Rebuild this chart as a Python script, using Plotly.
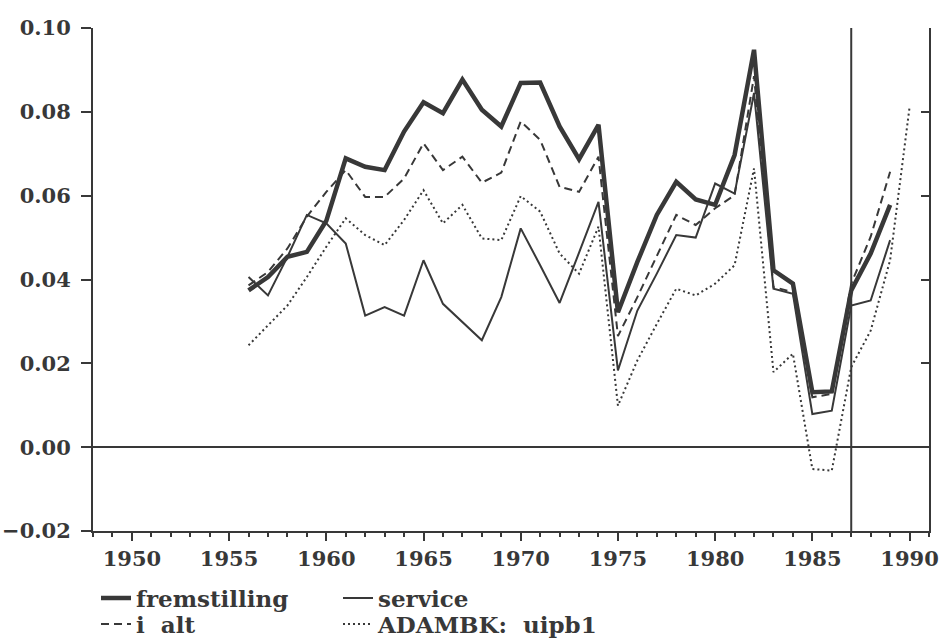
import plotly.graph_objects as go

years = list(range(1956, 1990))
years_adam = list(range(1956, 1991))

fremstilling = [0.0374, 0.0406, 0.0454, 0.0466, 0.0540, 0.0689, 0.0669, 0.0661, 0.0753, 0.0823,
                0.0797, 0.0877, 0.0805, 0.0765, 0.0869, 0.0870, 0.0765, 0.0687, 0.0769, 0.0322,
                0.0442, 0.0554, 0.0633, 0.0591, 0.0578, 0.0697, 0.0948, 0.0422, 0.0390, 0.0131,
                0.0133, 0.0374, 0.0462, 0.0578]
service = [0.0406, 0.0362, 0.0454, 0.0554, 0.0534, 0.0486, 0.0314, 0.0334, 0.0314, 0.0446,
           0.0342, 0.0298, 0.0255, 0.0358, 0.0522, 0.0434, 0.0344, 0.0464, 0.0585, 0.0183,
           0.0326, 0.0414, 0.0506, 0.0500, 0.0629, 0.0605, 0.0845, 0.0378, 0.0366, 0.0079,
           0.0087, 0.0338, 0.0350, 0.0494]
i_alt = [0.0386, 0.0418, 0.0474, 0.0550, 0.0609, 0.0661, 0.0597, 0.0597, 0.0641, 0.0725,
         0.0661, 0.0693, 0.0631, 0.0655, 0.0777, 0.0733, 0.0621, 0.0609, 0.0693, 0.0265,
         0.0358, 0.0454, 0.0554, 0.0530, 0.0570, 0.0601, 0.0885, 0.0382, 0.0370, 0.0119,
         0.0127, 0.0390, 0.0502, 0.0657]
adambk = [0.0243, 0.0290, 0.0338, 0.0406, 0.0478, 0.0546, 0.0506, 0.0482, 0.0542, 0.0613,
          0.0534, 0.0578, 0.0498, 0.0494, 0.0599, 0.0562, 0.0462, 0.0414, 0.0526, 0.0099,
          0.0207, 0.0294, 0.0378, 0.0362, 0.0390, 0.0434, 0.0665, 0.0179, 0.0223, -0.0052,
          -0.0056, 0.0191, 0.0278, 0.0446, 0.0811]

x_ticks = [1950, 1955, 1960, 1965, 1970, 1975, 1980, 1985, 1990]
y_ticks = [-0.02, 0.00, 0.02, 0.04, 0.06, 0.08, 0.10]
marker_year = 1987

INK = "#383838"
FONT = dict(family="DejaVu Serif", size=21, color=INK, weight="bold")
LEG_FONT = dict(family="DejaVu Serif", size=23, color=INK, weight="bold")

fig = go.Figure()
fig.add_trace(go.Scatter(x=years, y=fremstilling, mode="lines", name="fremstilling",
                         line=dict(color=INK, width=4.5), legend="legend"))
fig.add_trace(go.Scatter(x=years, y=service, mode="lines", name="service",
                         line=dict(color=INK, width=2), legend="legend2"))
fig.add_trace(go.Scatter(x=years, y=i_alt, mode="lines", name="i  alt",
                         line=dict(color=INK, width=2, dash="8px,5px"), legend="legend3"))
fig.add_trace(go.Scatter(x=years_adam, y=adambk, mode="lines", name="ADAMBK:  uipb1",
                         line=dict(color=INK, width=2, dash="2px,3px"), legend="legend4",
                         yaxis="y2"))

fig.add_shape(type="line", xref="x", yref="paper", x0=marker_year, x1=marker_year,
              y0=0, y1=1, line=dict(color=INK, width=2))


def leg(xpx, ypx):
    return dict(x=xpx / 945, y=1 - ypx / 643, xref="container", yref="container",
                xanchor="left", yanchor="middle", orientation="h", font=LEG_FONT,
                bgcolor="rgba(0,0,0,0)", borderwidth=0)


fig.update_layout(
    width=945, height=643,
    margin=dict(l=93, r=16, t=28, b=112, autoexpand=False),
    paper_bgcolor="white", plot_bgcolor="white",
    font=FONT,
    showlegend=True,
    legend=leg(96, 598),
    legend2=leg(338, 598),
    legend3=leg(96, 624),
    legend4=leg(338, 624),
    xaxis=dict(range=[1948, 1991], tickvals=x_ticks, ticks="outside", ticklen=8,
               tickwidth=2, tickcolor=INK, showline=True, linecolor=INK, linewidth=2,
               showgrid=False, zeroline=False, tickfont=FONT, automargin=False,
               minor=dict(dtick=1, ticks="outside", ticklen=4, tickwidth=2, tickcolor=INK)),
    yaxis=dict(range=[-0.02, 0.10], tickvals=y_ticks, tickformat=".2f", ticks="outside",
               ticklen=10, tickwidth=2, tickcolor=INK, showline=True, linecolor=INK,
               linewidth=2, showgrid=False, zeroline=True, zerolinecolor=INK,
               zerolinewidth=2, tickfont=FONT, ticklabelstandoff=6, automargin=False),
    yaxis2=dict(range=[-0.02, 0.10], matches="y", overlaying="y", side="right",
                anchor="x", tickvals=y_ticks, ticks="inside", ticklen=8, tickwidth=2,
                tickcolor=INK, showline=True, linecolor=INK, linewidth=2,
                showgrid=False, zeroline=False, showticklabels=False),
)

fig.write_html("out.html")
